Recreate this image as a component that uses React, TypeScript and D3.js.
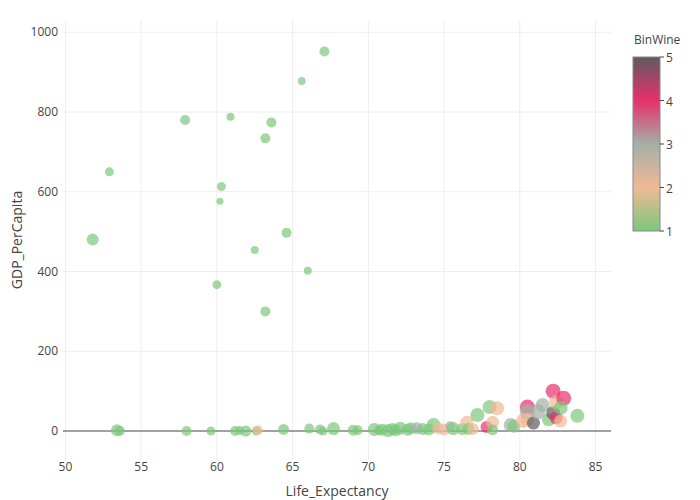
import * as d3 from "d3";
import React from "react";

// Life expectancy (x), GDP per capita (y), BinWine (colour) and marker size
const lifeExp = [
  51.8, 52.9, 57.9, 60.9, 60.3, 60.2, 60.0, 62.5, 63.2, 63.6, 63.2, 64.6, 65.6, 66.0, 67.1,
  53.4, 53.6, 58.0, 59.6, 61.2, 61.5, 61.9, 62.6, 62.7, 64.4, 66.1, 66.8, 67.0, 67.7, 69.0,
  69.3, 70.4, 70.7, 70.9, 71.3, 71.6, 71.8, 72.1, 72.6, 72.8, 73.2, 73.6, 74.0, 74.3, 74.6,
  75.0, 75.4, 75.6, 76.2, 76.5, 76.6, 76.9, 77.2, 77.8, 78.0, 78.2, 78.2, 78.5, 79.4, 79.6,
  80.2, 80.5, 80.5, 80.5, 80.9, 81.2, 81.5, 81.9, 82.2, 82.2, 82.4, 82.4, 82.9, 82.7, 82.7,
  83.8,
];
const gdpPerCapita = [
  480, 650, 780, 788, 613, 576, 367, 454, 734, 774, 300, 497, 878, 402, 952,
  2, 0, 0, 0, 0, 1, 0, 0, 2, 4, 6, 4, 0, 6, 2,
  2, 4, 2, 3, 1, 5, 2, 7, 3, 7, 7, 5, 4, 15, 7,
  4, 12, 6, 5, 22, 5, 5, 40, 10, 60, 22, 3, 57, 15, 12,
  25, 60, 48, 28, 20, 48, 65, 28, 45, 100, 72, 33, 82, 58, 25,
  38,
];
const binWine = [
  1, 1, 1, 1, 1, 1, 1, 1, 1, 1, 1, 1, 1, 1, 1,
  1, 1, 1, 1, 1, 1, 1, 1, 2, 1, 1, 1, 1, 1, 1,
  1, 1, 1, 1, 1, 1, 1, 1, 1, 1, 3, 1, 1, 1, 2,
  2, 3, 1, 1, 2, 1, 2, 1, 4, 1, 2, 1, 2, 3, 1,
  2, 4, 3, 2, 5, 3, 3, 1, 5, 4, 2, 4, 4, 1, 2,
  1,
];
const markerSize = [
  12, 9, 10, 8, 9, 7, 9, 8, 10, 10, 10, 10, 8, 8, 10,
  12, 10, 10, 9, 10, 9, 11, 9, 10, 11, 10, 10, 9, 13, 11,
  10, 13, 10, 12, 13, 12, 12, 13, 12, 12, 12, 12, 12, 14, 12,
  12, 10, 13, 12, 13, 12, 12, 14, 12, 14, 13, 11, 14, 14, 13,
  14, 15, 15, 14, 13, 15, 14, 13, 14, 15, 14, 13, 15, 14, 13,
  14,
];

const xTicks = [50, 55, 60, 65, 70, 75, 80, 85];
const yTicks = [0, 200, 400, 600, 800, 1000];
const binTicks = [1, 2, 3, 4, 5];
const binColors = ["#7cc87c", "#f0b996", "#a3b0a6", "#e6306c", "#5f5a5f"];

const W = 700;
const H = 500;
const plot = { left: 63, right: 611, top: 20, bottom: 460 };
const font = "'Open Sans', 'Noto Sans', sans-serif";

export default function App() {
  const x = d3.scaleLinear().domain([49.84, 86.02]).range([plot.left, plot.right]);
  const y = d3.scaleLinear().domain([-72.7, 1030.8]).range([plot.bottom, plot.top]);
  const color = d3.scaleLinear<string>().domain(binTicks).range(binColors).interpolate(d3.interpolateRgb);

  const cb = { x: 633, y0: 57, y1: 231, w: 27 };
  const cbScale = d3.scaleLinear().domain([1, 5]).range([cb.y1, cb.y0]);

  const points = lifeExp.map((le, i) => ({
    le,
    gdp: gdpPerCapita[i],
    bin: binWine[i],
    size: markerSize[i],
  }));

  return (
    <div style={{ position: "absolute", left: 0, top: 0 }}>
      <svg width={W} height={H} style={{ display: "block", fontFamily: font }}>
        <rect width={W} height={H} fill="#fff" />
        <defs>
          <clipPath id="plotClip">
            <rect x={plot.left} y={plot.top} width={plot.right - plot.left} height={plot.bottom - plot.top} />
          </clipPath>
          <linearGradient id="cbGrad" x1="0" y1="1" x2="0" y2="0">
            {binTicks.map((b, i) => (
              <stop key={b} offset={(b - 1) / 4} stopColor={binColors[i]} />
            ))}
          </linearGradient>
        </defs>

        {/* grid */}
        {xTicks.map((t) => (
          <line key={"gx" + t} x1={x(t)} x2={x(t)} y1={plot.top} y2={plot.bottom} stroke="#eee" />
        ))}
        {yTicks.filter((t) => t !== 0).map((t) => (
          <line key={"gy" + t} x1={plot.left} x2={plot.right} y1={y(t)} y2={y(t)} stroke="#eee" />
        ))}
        <line x1={plot.left} x2={plot.right} y1={y(0)} y2={y(0)} stroke="#444" strokeWidth={1} />

        {/* markers */}
        <g clipPath="url(#plotClip)">
          {points.map((p, i) => (
            <circle
              key={i}
              cx={x(p.le)}
              cy={y(p.gdp)}
              r={p.size / 2}
              fill={color(p.bin)}
              fillOpacity={0.7}
            />
          ))}
        </g>

        {/* tick labels */}
        {xTicks.map((t) => (
          <text key={"tx" + t} x={x(t)} y={471} textAnchor="middle" fontSize={12} fill="#444">
            {t}
          </text>
        ))}
        {yTicks.map((t) => (
          <text key={"ty" + t} x={58} y={y(t)} dy="0.35em" textAnchor="end" fontSize={12} fill="#444">
            {t}
          </text>
        ))}

        {/* axis titles */}
        <text x={(plot.left + plot.right) / 2} y={496} textAnchor="middle" fontSize={14} fill="#444">
          Life_Expectancy
        </text>
        <text
          transform={`translate(22,${(plot.top + plot.bottom) / 2}) rotate(-90)`}
          textAnchor="middle"
          fontSize={14}
          fill="#444"
        >
          GDP_PerCapita
        </text>

        {/* colorbar */}
        <text x={cb.x + 1} y={44} fontSize={12} fill="#444">
          BinWine
        </text>
        <rect x={cb.x} y={cb.y0} width={cb.w} height={cb.y1 - cb.y0} fill="url(#cbGrad)" stroke="#888" strokeWidth={1} />
        {binTicks.map((t) => (
          <g key={"cb" + t}>
            <line x1={cb.x + cb.w} x2={cb.x + cb.w + 4} y1={cbScale(t)} y2={cbScale(t)} stroke="#444" />
            <text x={cb.x + cb.w + 6} y={cbScale(t) + 1} dy="0.35em" fontSize={12} fill="#444">
              {t}
            </text>
          </g>
        ))}
      </svg>
    </div>
  );
}
